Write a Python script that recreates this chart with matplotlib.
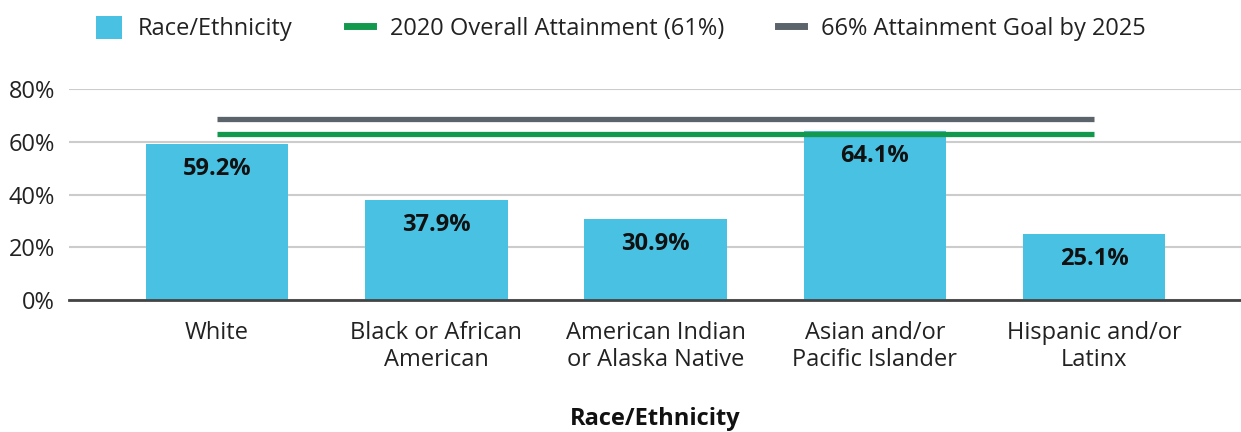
import matplotlib
matplotlib.use("Agg")
import matplotlib.pyplot as plt
from matplotlib.patches import Patch
from matplotlib.lines import Line2D
import numpy as np

plt.rcParams['font.family'] = ['Open Sans', 'DejaVu Sans']

categories = ['White', 'Black or African\nAmerican', 'American Indian\nor Alaska Native',
              'Asian and/or\nPacific Islander', 'Hispanic and/or\nLatinx']
attainment = [59.2, 37.9, 30.9, 64.1, 25.1]
labels = ['59.2%', '37.9%', '30.9%', '64.1%', '25.1%']
# reference lines as drawn in the picture
overall_2020 = 62.8
goal_2025 = 68.5
yticks = [0, 20, 40, 60, 80]

bar_color = '#48C1E3'
green = '#13994E'
grey = '#5B636B'
fs = 17

fig = plt.figure(figsize=(12.41, 4.32), dpi=100)
ax = fig.add_axes([69 / 1241, 132 / 432, 1 - 69 / 1241, (300 - 89) / 432])

x = np.arange(len(categories))
ax.bar(x, attainment, width=0.65, color=bar_color, zorder=2)
ax.plot([x[0], x[-1]], [goal_2025, goal_2025], color=grey, lw=3.8, solid_capstyle='butt', zorder=3)
ax.plot([x[0], x[-1]], [overall_2020, overall_2020], color=green, lw=3.8, solid_capstyle='butt', zorder=3)

for xi, v, lab in zip(x, attainment, labels):
    ax.annotate(lab, (xi, v), xytext=(0, -25), textcoords='offset pixels',
                ha='center', va='center', fontsize=fs, fontweight='bold', color='#111111', zorder=4)

ax.set_xlim(-0.675, 4.67)
ax.set_ylim(0, 80)
ax.set_yticks(yticks)
ax.set_yticklabels([f'{t}%' for t in yticks], fontsize=fs, color='#222222')
ax.set_xticks(x)
ax.set_xticklabels(categories, fontsize=fs, color='#222222', linespacing=1.2)
ax.tick_params(axis='both', length=0)
ax.tick_params(axis='x', pad=15)
ax.tick_params(axis='y', pad=10)
ax.yaxis.grid(True, color='#CCCCCC', lw=1.5, zorder=0)
ax.set_axisbelow(True)
for s in ['top', 'right', 'left']:
    ax.spines[s].set_visible(False)
ax.spines['bottom'].set_color('#444444')
ax.spines['bottom'].set_linewidth(2)
ax.spines['bottom'].set_zorder(5)

ax.set_xlabel('Race/Ethnicity', fontsize=fs, fontweight='bold', color='#111111', labelpad=25)

handles = [Patch(facecolor=bar_color, label='Race/Ethnicity'),
           Line2D([0], [0], color=green, lw=5, label='2020 Overall Attainment (61%)'),
           Line2D([0], [0], color=grey, lw=5, label='66% Attainment Goal by 2025')]
fig.legend(handles=handles, loc='upper center', bbox_to_anchor=(0.5, 1.012), ncol=3, frameon=False,
           fontsize=fs, handlelength=1.1, handleheight=1.1, columnspacing=2.3, handletextpad=0.7,
           labelcolor='#222222')

fig.savefig('out.png', dpi=100)
